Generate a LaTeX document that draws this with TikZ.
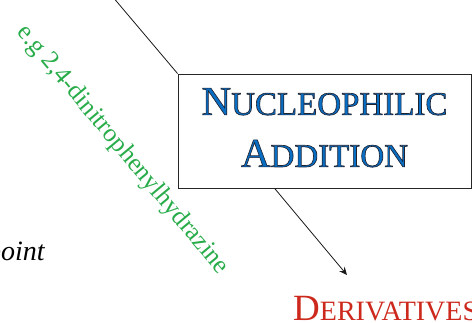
\documentclass[tikz,border=0pt]{standalone}
\usepackage{xcolor}
\usepackage{fontspec}
\setmainfont{Liberation Serif}
\usepackage{tikz}
\usetikzlibrary{
    arrows.meta,
    positioning
}

\definecolor{titleblue}{RGB}{8,110,196}
\definecolor{derivred}{RGB}{204,40,28}
\definecolor{reagentgreen}{RGB}{40,172,74}

% blue letters with a dark outline
\newcommand{\outlined}[1]{%
  \special{pdf:literal direct 2 Tr 0.65 w 0.12 0.14 0.20 RG}#1%
  \special{pdf:literal direct 0 Tr}}
\newcommand{\bigsc}[2]{{\fontsize{41}{52}\selectfont #1}{\fontsize{33}{52}\selectfont #2}}
\newcommand{\redsc}[2]{{\fontsize{37}{44}\selectfont #1}{\fontsize{28}{44}\selectfont #2}}

\begin{document}
\begin{tikzpicture}[
    x=1pt, y=1pt,
    titlebox/.style={
        draw=black!85,
        line width=0.8pt,
        minimum width=293pt,
        minimum height=114pt,
        text depth=7pt,
        align=center,
        text=titleblue,
        font=\fontsize{41}{52}\selectfont
    },
    reagent/.style={
        text=reagentgreen,
        font=\fontsize{25.6}{30}\selectfont,
        rotate=-50.2,
        inner sep=0pt
    },
    link/.style={
        line width=0.8pt,
        draw=black!90
    }
]
\useasboundingbox (0,0) rectangle (472,322);

\node[titlebox] (nucadd) at (324.5,191)
{\outlined{\bigsc{N}{UCLEOPHILIC}}\\\outlined{\bigsc{A}{DDITION}}};

\node[anchor=base west, inner sep=0pt, text=derivred] (deriv) at (293,2)
{\redsc{D}{ERIVATIVES}};

\node[anchor=base west, inner sep=0pt,
font=\fontsize{28}{32}\selectfont\itshape] (mp) at (-13,62) {point};

\node[reagent] (dnph) at (122.5,172) {e.g 2,4-dinitrophenylhydrazine};

\coordinate (upper) at (112,326);
\coordinate (derivin) at (347,47);

\draw[link] (upper) -- (nucadd.north west);

\draw[link, -{Stealth[length=8pt, width=7pt, inset=3pt]}]
([xshift=97pt]nucadd.south west) -- (derivin);

\end{tikzpicture}
\end{document}
